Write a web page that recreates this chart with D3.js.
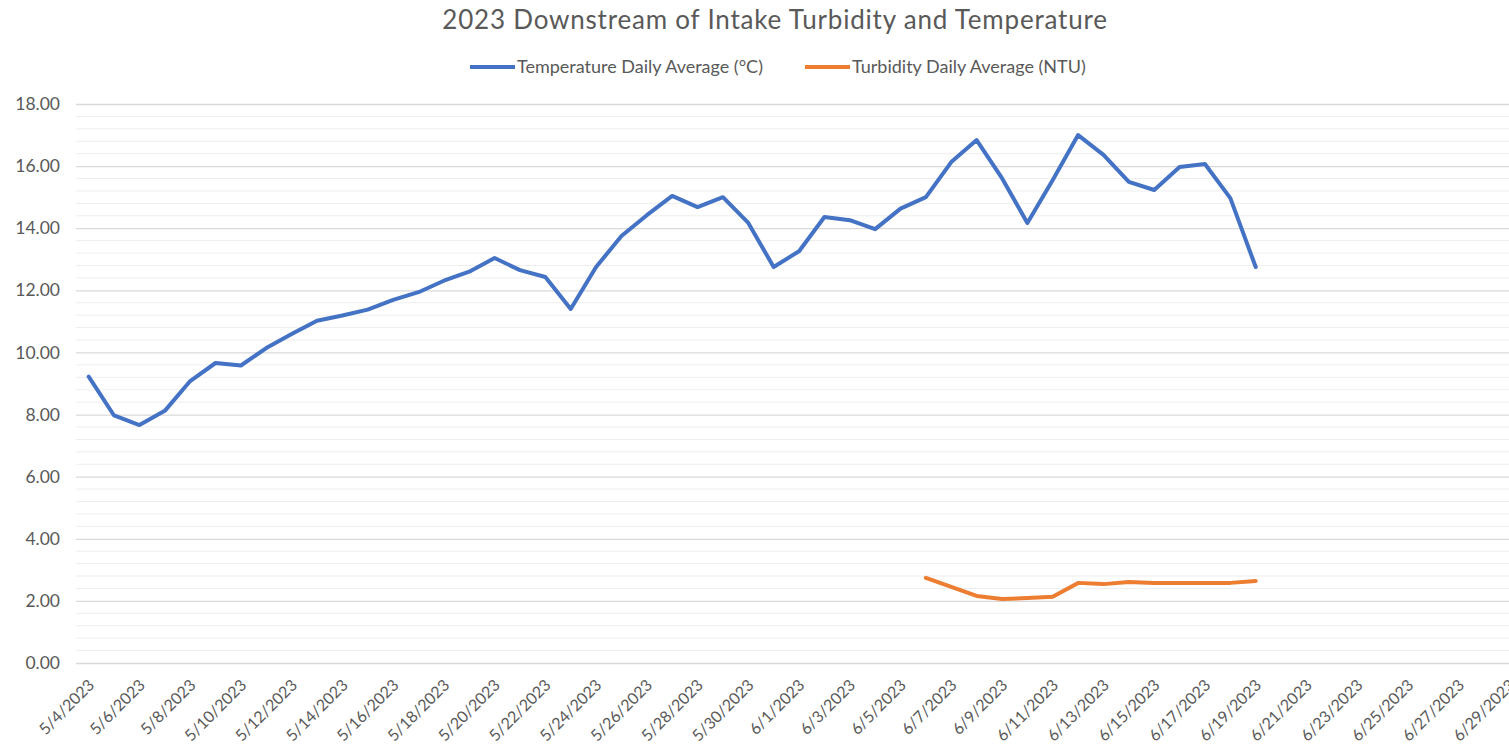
<!DOCTYPE html>
<html>
<head>
<meta charset="utf-8">
<script src="https://cdn.jsdelivr.net/npm/d3@7"></script>
<style>
  body { margin: 0; background: #fff; }
  svg { display: block; font-family: Lato, 'Open Sans', sans-serif; }
</style>
</head>
<body>
<div id="chart"></div>
<script>
// Chart data
const title = '2023 Downstream of Intake Turbidity and Temperature'
const seriesNames = ['Temperature Daily Average (°C)', 'Turbidity Daily Average (NTU)']
const seriesColors = ['#4472c4', '#ed7d31']

const axisStart = '2023-05-04'
const axisEnd = '2023-06-29'

const tempStart = '2023-05-04'
const temperature = [
  9.22, 7.97, 7.66, 8.12, 9.08, 9.66, 9.58, 10.14, 10.59, 11.02,
  11.19, 11.38, 11.69, 11.94, 12.31, 12.60, 13.04, 12.65, 12.43, 11.40,
  12.75, 13.75, 14.42, 15.04, 14.68, 15.00, 14.17, 12.75, 13.26, 14.36,
  14.26, 13.97, 14.63, 15.00, 16.13, 16.84, 15.61, 14.17, 15.55, 17.00,
  16.36, 15.49, 15.23, 15.97, 16.07, 14.97, 12.75
]

const turbStart = '2023-06-06'
const turbidity = [2.74, 2.45, 2.16, 2.06, 2.09, 2.13, 2.58, 2.54, 2.61, 2.58, 2.58, 2.58, 2.58, 2.64]

const yTicks = [0, 2, 4, 6, 8, 10, 12, 14, 16, 18]

// Layout
const width = 1509
const height = 748
const plot = { left: 76, top: 104, bottom: 663, dayWidth: 25.37 }
const textColor = '#595959'

const parse = d3.timeParse('%Y-%m-%d')
const toPoints = (start, values) => values.map((v, i) => ({
  date: d3.timeDay.offset(parse(start), i),
  value: v
}))

const tempPoints = toPoints(tempStart, temperature)
const turbPoints = toPoints(turbStart, turbidity)

const first = parse(axisStart)
const last = parse(axisEnd)
const nDays = d3.timeDay.count(first, last) + 1

// category-style date axis: half a day of padding on each side
const x = d3.scaleTime()
  .domain([d3.timeHour.offset(first, -12), d3.timeHour.offset(last, 12)])
  .range([plot.left, plot.left + nDays * plot.dayWidth])

const y = d3.scaleLinear()
  .domain([0, 18])
  .range([plot.bottom, plot.top])

const svg = d3.select('#chart')
  .append('svg')
  .attr('width', width)
  .attr('height', height)

// Minor gridlines
const minorTicks = d3.range(0, 18.001, 0.4).filter(v => Math.abs(v / 2 - Math.round(v / 2)) > 0.01)
svg.append('g')
  .selectAll('line')
  .data(minorTicks)
  .join('line')
  .attr('x1', x.range()[0])
  .attr('x2', x.range()[1])
  .attr('y1', d => y(d))
  .attr('y2', d => y(d))
  .attr('stroke', '#eeeeee')
  .attr('stroke-width', 1)

// Y axis with major gridlines
const yAxis = svg.append('g')
  .attr('transform', `translate(${plot.left},0)`)
  .call(d3.axisLeft(y)
    .tickValues(yTicks)
    .tickFormat(d3.format('.2f'))
    .tickSize(-(x.range()[1] - plot.left))
    .tickPadding(16))

yAxis.select('.domain').remove()
yAxis.selectAll('.tick line').attr('stroke', '#d9d9d9').attr('stroke-width', 1.3)
yAxis.selectAll('.tick text')
  .attr('fill', textColor)
  .attr('font-size', '17.5px')
  .attr('font-family', 'Lato, sans-serif')

// X axis, every other day
const xAxis = svg.append('g')
  .attr('transform', `translate(0,${plot.bottom})`)
  .call(d3.axisBottom(x)
    .tickValues(d3.timeDay.range(first, d3.timeDay.offset(last, 1), 2))
    .tickFormat(d3.timeFormat('%-m/%-d/%Y'))
    .tickSize(0))

xAxis.select('.domain').remove()
xAxis.selectAll('.tick text')
  .attr('fill', textColor)
  .attr('font-size', '16px')
  .attr('font-family', 'Lato, sans-serif')
  .attr('text-anchor', 'end')
  .attr('dy', '0.35em')
  .attr('transform', 'translate(0,17) rotate(-45)')

// Series lines
const line = d3.line()
  .x(d => x(d.date))
  .y(d => y(d.value))

svg.append('path')
  .datum(tempPoints)
  .attr('d', line)
  .attr('fill', 'none')
  .attr('stroke', seriesColors[0])
  .attr('stroke-width', 4)
  .attr('stroke-linejoin', 'round')
  .attr('stroke-linecap', 'round')

svg.append('path')
  .datum(turbPoints)
  .attr('d', line)
  .attr('fill', 'none')
  .attr('stroke', seriesColors[1])
  .attr('stroke-width', 4)
  .attr('stroke-linejoin', 'round')
  .attr('stroke-linecap', 'round')

// Title
svg.append('text')
  .attr('x', 775)
  .attr('y', 29)
  .attr('text-anchor', 'middle')
  .attr('fill', textColor)
  .attr('font-size', '26px')
  .attr('letter-spacing', '0.8px')
  .text(title)

// Legend
const legendItems = [
  { name: seriesNames[0], color: seriesColors[0], x: 470 },
  { name: seriesNames[1], color: seriesColors[1], x: 805 }
]
const legend = svg.append('g')
  .selectAll('g')
  .data(legendItems)
  .join('g')
  .attr('transform', d => `translate(${d.x},67)`)

legend.append('line')
  .attr('x1', 0)
  .attr('x2', 45)
  .attr('stroke', d => d.color)
  .attr('stroke-width', 4)

legend.append('text')
  .attr('x', 47)
  .attr('dy', '0.35em')
  .attr('fill', textColor)
  .attr('font-size', '18px')
  .text(d => d.name)
</script>
</body>
</html>
